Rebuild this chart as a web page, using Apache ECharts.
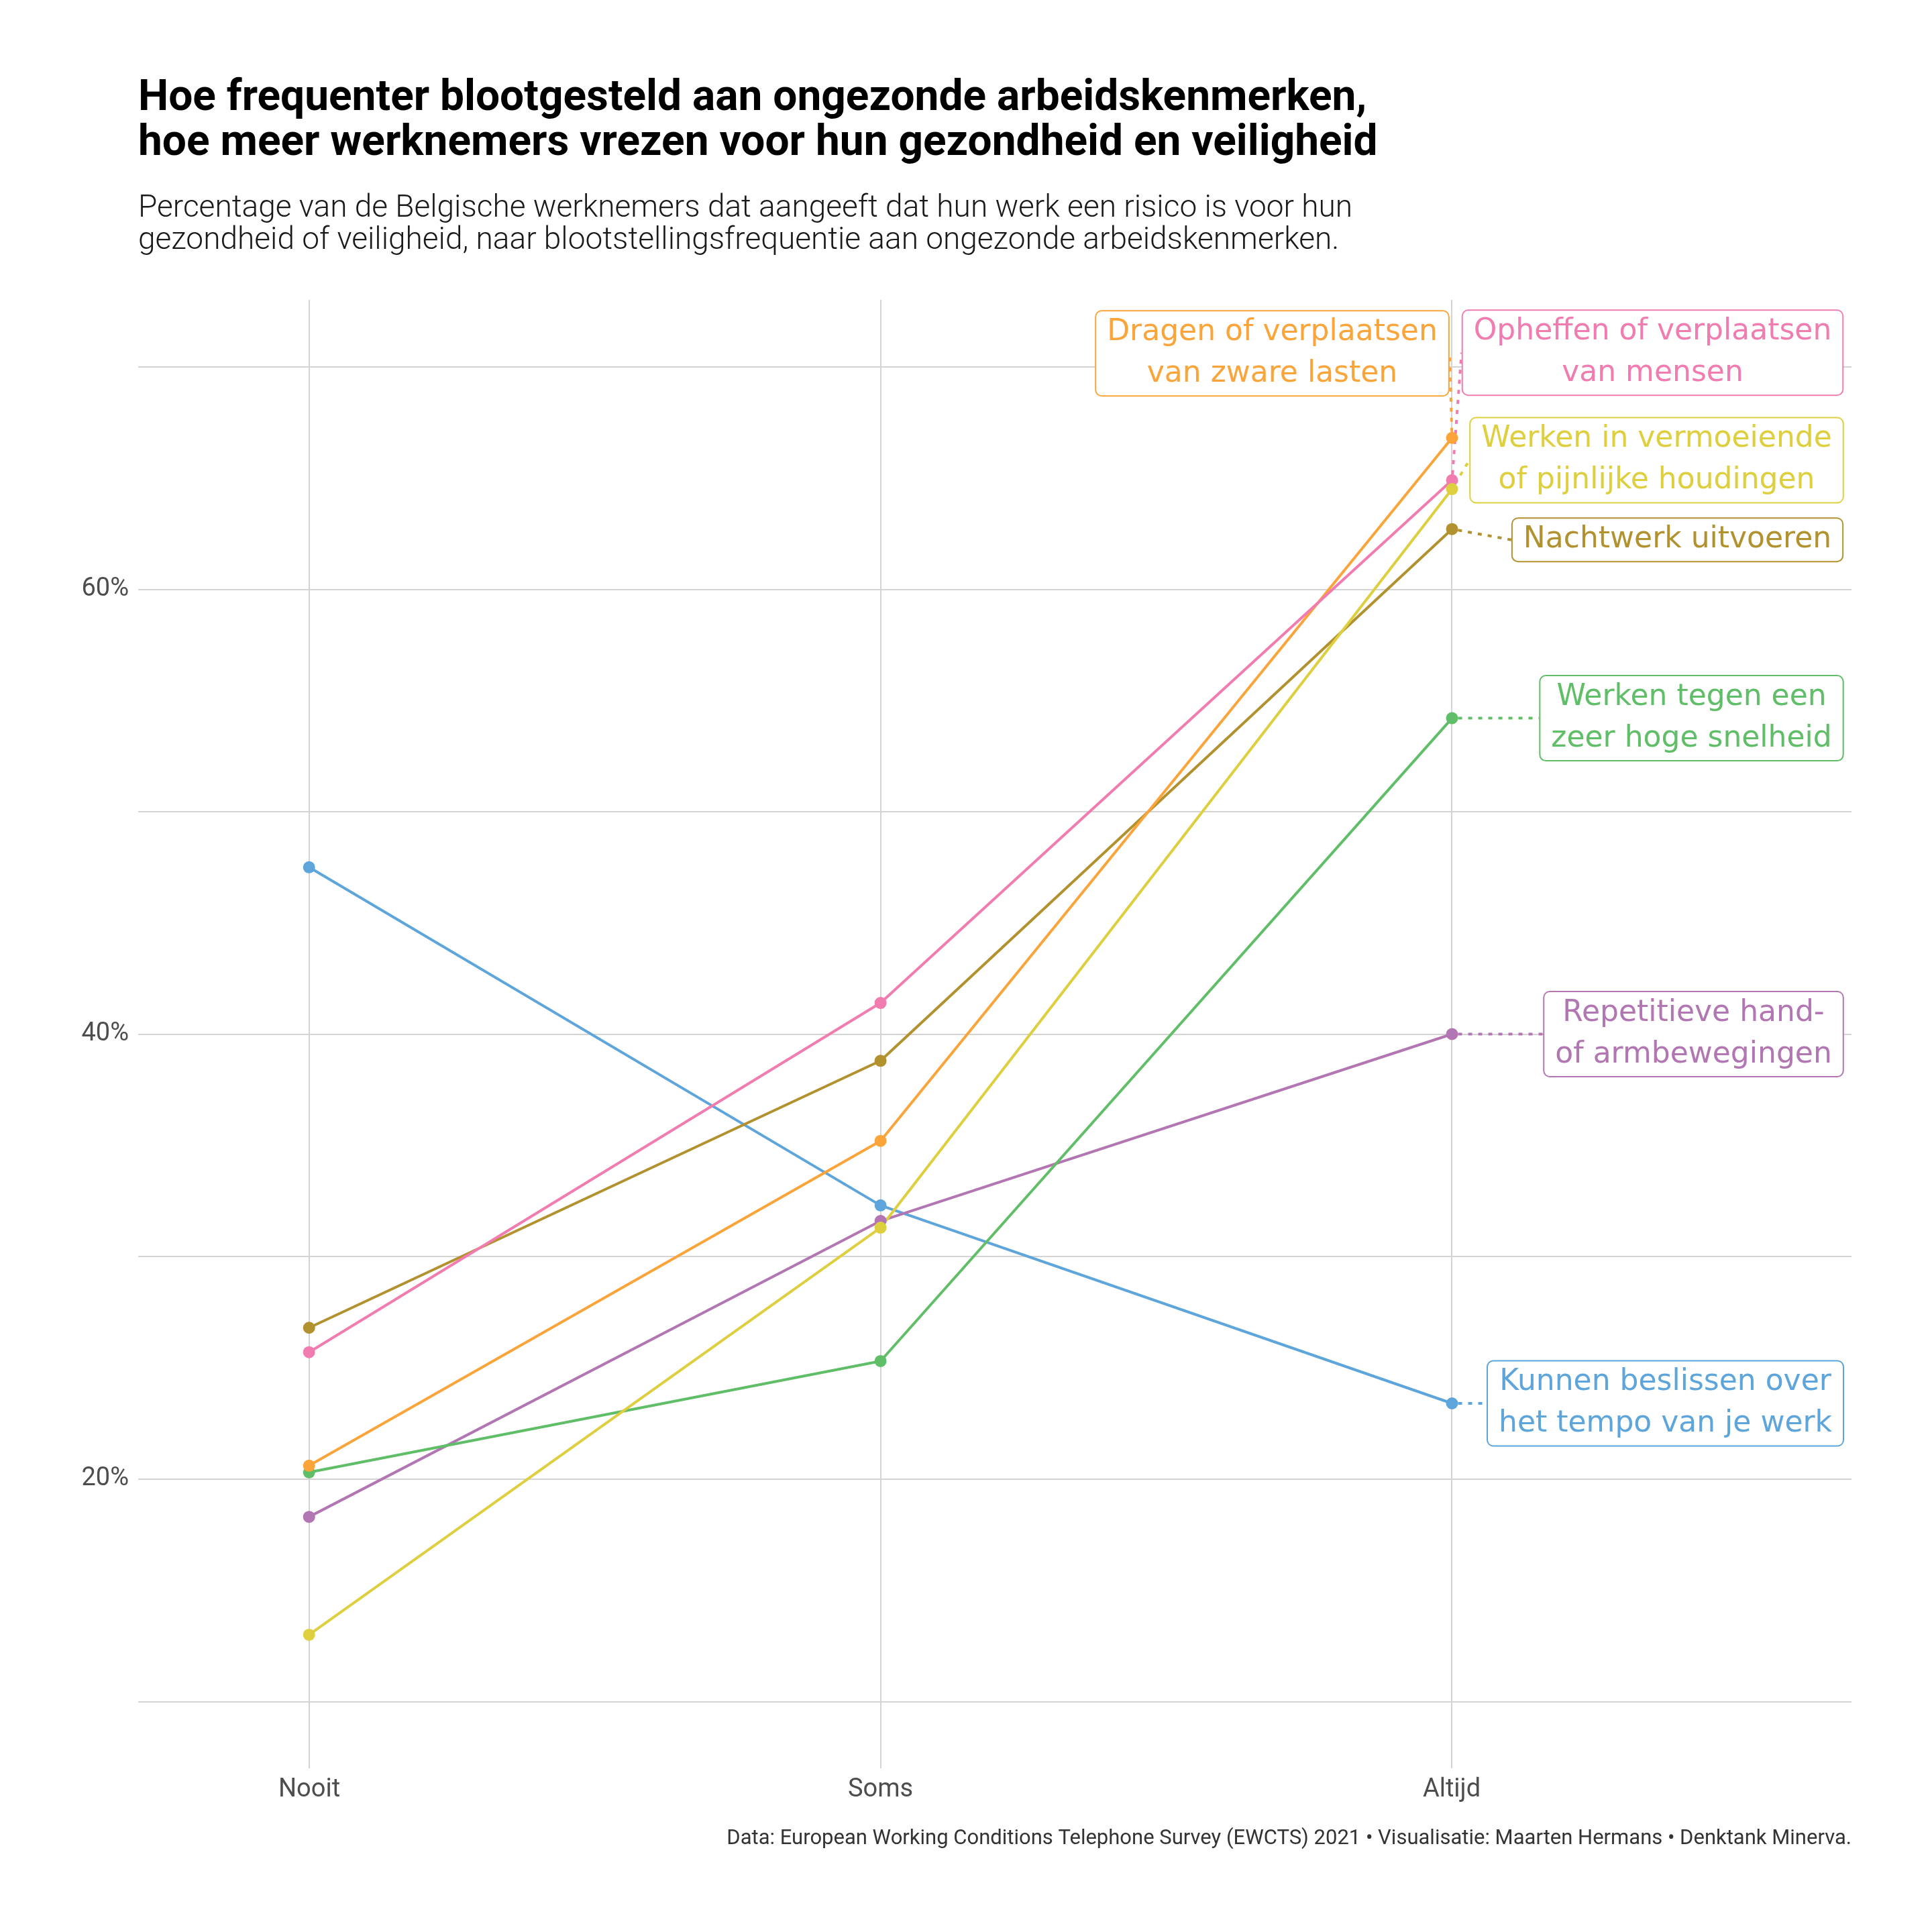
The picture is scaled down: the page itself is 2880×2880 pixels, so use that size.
<!DOCTYPE html>
<html>
<head>
<meta charset="utf-8">
<script src="https://cdn.jsdelivr.net/npm/echarts@6/dist/echarts.min.js"></script>
<style>
html,body{margin:0;padding:0;background:#ffffff;}
#chart{width:2880px;height:2880px;}
</style>
</head>
<body>
<div id="chart"></div>
<script>
// ---------- DATA ----------
const categories = ['Nooit', 'Soms', 'Altijd'];

const seriesNames = [
  'Kunnen beslissen over het tempo van je werk',
  'Repetitieve hand- of armbewegingen',
  'Werken tegen een zeer hoge snelheid',
  'Nachtwerk uitvoeren',
  'Dragen of verplaatsen van zware lasten',
  'Opheffen of verplaatsen van mensen',
  'Werken in vermoeiende of pijnlijke houdingen'
];

const labelTexts = [
  'Kunnen beslissen over\nhet tempo van je werk',
  'Repetitieve hand-\nof armbewegingen',
  'Werken tegen een\nzeer hoge snelheid',
  'Nachtwerk uitvoeren',
  'Dragen of verplaatsen\nvan zware lasten',
  'Opheffen of verplaatsen\nvan mensen',
  'Werken in vermoeiende\nof pijnlijke houdingen'
];

const tempoValues      = [47.5, 32.3, 23.4];
const repetitiefValues = [18.3, 31.6, 40.0];
const snelheidValues   = [20.3, 25.3, 54.2];
const nachtwerkValues  = [26.8, 38.8, 62.7];
const lastenValues     = [20.6, 35.2, 66.8];
const mensenValues     = [25.7, 41.4, 64.9];
const houdingenValues  = [13.0, 31.3, 64.5];

const yTickValues = [20, 40, 60];
const yTickLabels = ['20%', '40%', '60%'];

const titleText = 'Hoe frequenter blootgesteld aan ongezonde arbeidskenmerken,\nhoe meer werknemers vrezen voor hun gezondheid en veiligheid';
const subtitleText = 'Percentage van de Belgische werknemers dat aangeeft dat hun werk een risico is voor hun\ngezondheid of veiligheid, naar blootstellingsfrequentie aan ongezonde arbeidskenmerken.';
const captionText = 'Data: European Working Conditions Telephone Survey (EWCTS) 2021 \u2022 Visualisatie: Maarten Hermans \u2022 Denktank Minerva.';

// ---------- STYLES ----------
const allValues = [tempoValues, repetitiefValues, snelheidValues, nachtwerkValues, lastenValues, mensenValues, houdingenValues];
const colors = ['#5DA5DA', '#B276B2', '#60BD68', '#B2912F', '#FAA43A', '#F17CB0', '#DECF3F'];
// label box offsets (px) relative to the last point
const labelOffsets = [[318, 0], [360, 0], [357, 0], [336, 16], [-268, -126], [299, -190], [305, -43]];

const chart = echarts.init(document.getElementById('chart'), null, {renderer: 'canvas', width: 2880, height: 2880});

const series = allValues.map((vals, s) => ({
  type: 'line',
  name: seriesNames[s],
  xAxisIndex: 0,
  yAxisIndex: 0,
  data: vals.map((v, i) => i === vals.length - 1 ? {value: [i, v], label: {show: true}} : [i, v]),
  symbol: 'circle',
  symbolSize: 18,
  showSymbol: true,
  clip: false,
  animation: false,
  lineStyle: {width: 4, color: colors[s]},
  itemStyle: {color: colors[s]},
  emphasis: {disabled: true},
  label: {
    show: false,
    position: 'inside',
    formatter: labelTexts[s],
    color: colors[s],
    fontFamily: 'DejaVu Sans',
    fontSize: 44,
    lineHeight: 62,
    align: 'center',
    padding: [1, 16, 0, 16],
    backgroundColor: '#ffffff',
    borderColor: colors[s],
    borderWidth: 2,
    borderRadius: 8
  },
  labelLine: {
    show: true,
    lineStyle: {color: colors[s], width: 4, type: [6, 9]}
  },
  labelLayout: function (p) {
    if (p.dataIndex === vals.length - 1) {
      return {dx: labelOffsets[s][0], dy: labelOffsets[s][1]};
    }
    return {};
  }
}));

const gridLineStyle = {color: '#d4d4d4', width: 2};

const option = {
  backgroundColor: '#ffffff',
  animation: false,
  title: [
    {
      text: titleText, left: 206, top: 114, padding: 0,
      textStyle: {fontFamily: 'Roboto', fontWeight: 'bold', fontSize: 64, lineHeight: 67, color: '#000000'}
    },
    {
      text: subtitleText, left: 206, top: 287, padding: 0,
      textStyle: {fontFamily: 'Roboto', fontWeight: 300, fontSize: 46, lineHeight: 48, color: '#1a1a1a'}
    },
    {
      text: captionText, right: 120, top: 2725, padding: 0,
      textStyle: {fontFamily: 'Roboto', fontWeight: 'normal', fontSize: 31, lineHeight: 32, color: '#333333'}
    }
  ],
  grid: [
    {left: 206, right: 120, top: 215, bottom: 12, containLabel: false, outerBoundsMode: 'none'},
    {left: 461, right: 716, top: 447, bottom: 244, containLabel: false, outerBoundsMode: 'none'}
  ],
  xAxis: [
    {gridIndex: 0, type: 'value', min: -0.299, max: 2.699, show: false},
    {
      gridIndex: 1, type: 'value', min: 0, max: 2, interval: 1,
      axisLine: {show: false}, axisTick: {show: false},
      splitLine: {show: true, lineStyle: gridLineStyle},
      axisLabel: {
        formatter: v => categories[v] !== undefined ? categories[v] : '',
        fontFamily: 'Roboto', fontSize: 38, color: '#4d4d4d', margin: 13
      }
    }
  ],
  yAxis: [
    {
      gridIndex: 0, type: 'value', min: 0, max: 80, interval: 10,
      axisLine: {show: false}, axisTick: {show: false},
      splitLine: {show: true, showMinLine: false, showMaxLine: false, lineStyle: gridLineStyle},
      axisLabel: {
        formatter: v => { const k = yTickValues.indexOf(v); return k >= 0 ? yTickLabels[k] : ''; },
        fontFamily: 'Roboto', fontSize: 38, color: '#4d4d4d', margin: 14
      }
    },
    {gridIndex: 1, type: 'value', min: 0, max: 1, show: false}
  ],
  series: series
};

chart.setOption(option);
</script>
</body>
</html>
